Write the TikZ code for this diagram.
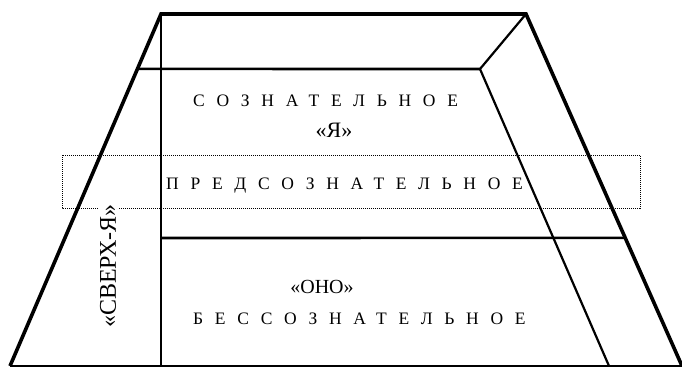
\documentclass[tikz,border=0pt]{standalone}
\usepackage{fontspec}
\setmainfont{Liberation Serif}
\newfontfamily\spacedfont[LetterSpace=67]{Liberation Serif}
\usepackage{tikz}
\usetikzlibrary{calc}

\begin{document}
\begin{tikzpicture}[
            x=1pt, y=-1pt,
            thickline/.style={line width=3.6pt, line join=miter},
            midline/.style={line width=2.6pt},
            thinline/.style={line width=2.2pt},
            level/.style={font=\fontsize{17.5}{19}\spacedfont, inner sep=0pt, anchor=base west},
            part/.style={font=\fontsize{20}{22}\selectfont, inner sep=0pt, anchor=base}
        ]
            \useasboundingbox (0,0) rectangle (682,367);
            % corners of the trapezoid
            \coordinate (tl) at (161,14);
            \coordinate (tr) at (526,14);
            \coordinate (bl) at (10,366);
            \coordinate (br) at (682,366);
            \coordinate (lmid) at ($(tl)!0.156!(bl)$);
            \coordinate (rmid) at ($(tr)!0.636!(br)$);
            \coordinate (ego) at (480,69);
            \coordinate (egob) at (609,366);
            \coordinate (vtop) at (161,14);
            \coordinate (vmid) at (161,238);
            \coordinate (vbot) at (161,366);
            % preconscious band
            \draw[densely dotted, line width=1pt] (62,155) rectangle (640,208);
            % outer frame
            \draw[thickline] (bl) -- (tl) -- (tr) -- (br);
            \draw[midline] (bl) -- (br);
            % inner lines
            \draw[midline] (vtop) -- (vbot);
            \draw[midline] (lmid) -- (ego);
            \draw[thinline] (tr) -- (ego) -- (egob);
            \draw[midline] (vmid) -- (rmid);
            % labels
            \node[level] (consc) at (193,106) {СОЗНАТЕЛЬНОЕ};
            \node[part, font=\fontsize{22}{24}\selectfont] (egotext) at (334,137) {«Я»};
            \node[level] (precon) at (166,189) {ПРЕДСОЗНАТЕЛЬНОЕ};
            \node[part] (id) at (322,293) {«ОНО»};
            \node[level] (uncon) at (193,324) {БЕССОЗНАТЕЛЬНОЕ};
            \node[part, font=\fontsize{24}{26}\selectfont, anchor=center, rotate=90,
                  fill=white, inner sep=2pt] (superego) at (108,266) {«СВЕРХ-Я»};
        \end{tikzpicture}
\end{document}
